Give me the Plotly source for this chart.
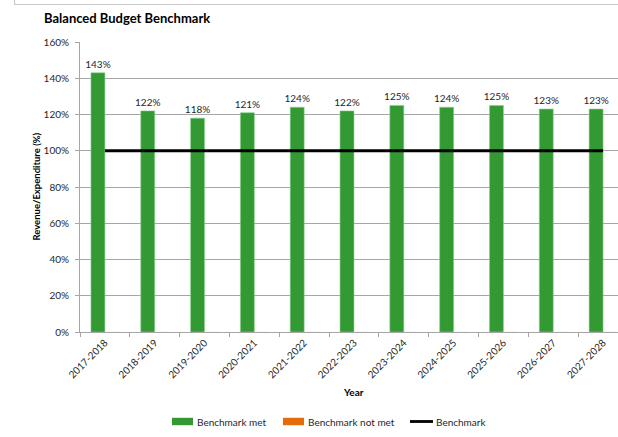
import plotly.graph_objects as go

# Fiscal years and revenue/expenditure ratios (%)
years = ["2017-2018", "2018-2019", "2019-2020", "2020-2021", "2021-2022",
         "2022-2023", "2023-2024", "2024-2025", "2025-2026", "2026-2027",
         "2027-2028"]
met_values = [143, 122, 118, 121, 124, 122, 125, 124, 125, 123, 123]
not_met_values = [0, 0, 0, 0, 0, 0, 0, 0, 0, 0, 0]
benchmark_values = [100] * len(years)
y_ticks = [0, 20, 40, 60, 80, 100, 120, 140, 160]

GREEN = "#339933"
ORANGE = "#E46C0A"
GRID = "#a6a6a6"
TEXT = "#262626"
FONT = "Lato, Open Sans, sans-serif"

W, H = 618, 437
ML, MR, MT, MB = 80, 0, 42, 105
PW, PH = W - ML - MR, H - MT - MB


def px(x):
    return (x - ML) / PW


def py(y):
    return (H - MB - y) / PH


fig = go.Figure()
fig.add_trace(go.Bar(
    x=years, y=met_values, name="Benchmark met",
    marker=dict(color=GREEN, line=dict(color="#8fcf8f", width=0.6)),
    text=[f"{v}%" for v in met_values], textposition="outside",
    constraintext="none",
    textfont=dict(size=10, color=TEXT, family=FONT), cliponaxis=False,
))
fig.add_trace(go.Bar(
    x=years, y=not_met_values, name="Benchmark not met",
    marker=dict(color=ORANGE),
))
fig.add_trace(go.Scatter(
    x=years, y=benchmark_values, name="Benchmark", mode="lines",
    line=dict(color="black", width=2.8),
))

# Outer chart frame
shapes = [dict(type="path", xref="paper", yref="paper",
               path=f"M {px(14.5)} {py(-50)} L {px(14.5)} {py(4.5)} L {px(700)} {py(4.5)}",
               line=dict(color="#c8c8c8", width=1.2), layer="below")]

# Legend drawn as swatches and labels
legend_y = 421.5
shapes += [
    dict(type="rect", xref="paper", yref="paper",
         x0=px(172), x1=px(193), y0=py(legend_y - 3.7), y1=py(legend_y + 3.7),
         fillcolor=GREEN, line=dict(width=0)),
    dict(type="rect", xref="paper", yref="paper",
         x0=px(283), x1=px(304), y0=py(legend_y - 3.7), y1=py(legend_y + 3.7),
         fillcolor=ORANGE, line=dict(width=0)),
    dict(type="line", xref="paper", yref="paper",
         x0=px(410), x1=px(433), y0=py(legend_y), y1=py(legend_y),
         line=dict(color="black", width=2.8)),
]

annotations = [
    dict(text="<b>Balanced Budget Benchmark</b>", xref="paper", yref="paper",
         x=px(42), y=py(18), xanchor="left", yanchor="middle", showarrow=False,
         font=dict(size=13, color="black", family=FONT)),
    dict(text="<b>Revenue/Expenditure (%)</b>", xref="paper", yref="paper",
         x=px(35.5), y=py(187), xanchor="center", yanchor="middle", textangle=-90,
         showarrow=False, font=dict(size=9.5, color="black", family=FONT)),
    dict(text="<b>Year</b>", xref="paper", yref="paper",
         x=px(353), y=py(392), xanchor="center", yanchor="middle", showarrow=False,
         font=dict(size=10, color="black", family=FONT)),
]
for x0, label in [(195, "Benchmark met"), (306, "Benchmark not met"), (434, "Benchmark")]:
    annotations.append(dict(text=label, xref="paper", yref="paper",
                            x=px(x0), y=py(legend_y), xanchor="left", yanchor="middle",
                            showarrow=False,
                            font=dict(size=10, color=TEXT, family=FONT)))

fig.update_layout(
    width=W, height=H, autosize=False,
    margin=dict(l=ML, r=MR, t=MT, b=MB, pad=0),
    paper_bgcolor="white", plot_bgcolor="white",
    barmode="group", bargap=0.44, bargroupgap=0,
    showlegend=False,
    font=dict(family=FONT, size=10, color=TEXT),
    shapes=shapes, annotations=annotations,
    xaxis=dict(type="category", range=[-0.5, 10.3], tickangle=-45,
               ticks="outside", ticklen=4, tickcolor=GRID, tickson="boundaries",
               showline=True, linecolor=GRID, linewidth=1, showgrid=False,
               tickfont=dict(size=10, color=TEXT, family=FONT)),
    yaxis=dict(range=[0, 160], tickvals=y_ticks,
               ticktext=[f"{v}%" for v in y_ticks],
               ticks="outside", ticklen=4, tickcolor=GRID, ticklabelstandoff=4,
               showline=True, linecolor=GRID, linewidth=1,
               showgrid=True, gridcolor=GRID, gridwidth=1, zeroline=False,
               tickfont=dict(size=10, color=TEXT, family=FONT)),
)

fig.write_html("out.html")
